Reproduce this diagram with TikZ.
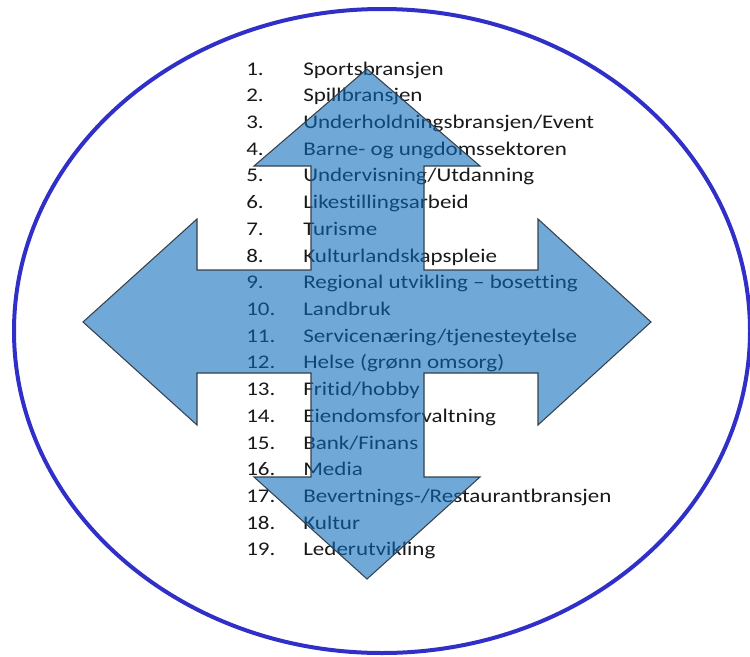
\documentclass[tikz,border=0pt]{standalone}
\usepackage{fontspec}
\setmainfont{Carlito}[Ligatures=NoCommon]
\definecolor{ring}{RGB}{48,48,200}
\definecolor{arrowfill}{RGB}{9,105,188}
\definecolor{arrowline}{RGB}{55,65,75}
\definecolor{txt}{RGB}{25,25,25}
\newcommand\lstentry[2]{%
  \node[item] (n#1) at (246,{75+(#1-1)*26.72}) {#1.};
  \node[item] (t#1) at (303,{75+(#1-1)*26.72}) {#2};}
\begin{document}
\begin{tikzpicture}[x=0.75pt,y=-0.75pt,
  item/.style={anchor=base west, inner sep=0pt, xscale=1.19, transform shape,
    font=\fontsize{14.5}{16}\selectfont, text=txt}]
\useasboundingbox (0,0) rectangle (750,657);
\draw[ring, line width=3pt] (382,331) ellipse [x radius=276pt, y radius=241.5pt];
\lstentry{1}{Sportsbransjen}
\lstentry{2}{Spillbransjen}
\lstentry{3}{Underholdningsbransjen/Event}
\lstentry{4}{Barne- og ungdomssektoren}
\lstentry{5}{Undervisning/Utdanning}
\lstentry{6}{Likestillingsarbeid}
\lstentry{7}{Turisme}
\lstentry{8}{Kulturlandskapspleie}
\lstentry{9}{Regional utvikling – bosetting}
\lstentry{10}{Landbruk}
\lstentry{11}{Servicenæring/tjenesteytelse}
\lstentry{12}{Helse (grønn omsorg)}
\lstentry{13}{Fritid/hobby}
\lstentry{14}{Eiendomsforvaltning}
\lstentry{15}{Bank/Finans}
\lstentry{16}{Media}
\lstentry{17}{Bevertnings-/Restaurantbransjen}
\lstentry{18}{Kultur}
\lstentry{19}{Lederutvikling}
\path[fill=arrowfill, fill opacity=0.58, draw=arrowline, draw opacity=1, line width=0.8pt, line join=miter]
  (367,69) -- (480,166) -- (424,166) -- (424,270) -- (538,270) -- (538,219)
  -- (651,322) -- (538,425) -- (538,373) -- (424,373) -- (424,477) -- (480,477)
  -- (367,579) -- (254,477) -- (311,477) -- (311,373) -- (197,373) -- (197,425)
  -- (83,322) -- (197,219) -- (197,270) -- (311,270) -- (311,166) -- (254,166) -- cycle;
\end{tikzpicture}
\end{document}
